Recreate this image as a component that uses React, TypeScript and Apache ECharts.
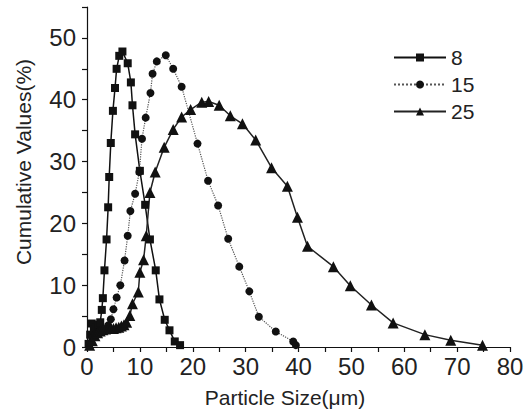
import React, { useEffect, useRef } from "react";
import * as echarts from "echarts";

// Particle size (µm) and cumulative values (%) for each series
const seriesNames = ["8", "15", "25"];

const size8 = [0.3, 0.6, 0.9, 1.3, 1.7, 2.1, 2.5, 2.8, 3.0, 3.3, 3.7, 4.0, 4.2, 4.5, 4.9, 5.3, 5.6, 6.1, 6.7, 7.7, 8.3, 8.6, 9.1, 10.0, 11.0, 11.9, 13.0, 13.7, 14.7, 15.6, 16.6, 17.6];
const cum8 = [0.5, 2.0, 3.8, 2.8, 3.2, 3.6, 4.0, 6.0, 7.9, 12.4, 17.4, 22.6, 27.5, 33.0, 38.2, 41.9, 45.0, 47.1, 47.8, 45.9, 42.8, 39.1, 34.4, 28.5, 23.0, 17.4, 12.4, 7.7, 4.4, 2.7, 0.9, 0.3];

const size15 = [0.5, 1.0, 1.5, 2.0, 2.5, 3.0, 3.5, 4.0, 4.5, 5.0, 5.6, 6.3, 7.1, 7.7, 8.2, 9.1, 9.9, 10.4, 11.1, 12.0, 12.4, 13.2, 14.9, 16.3, 17.9, 20.9, 22.9, 24.8, 26.7, 28.8, 30.7, 32.5, 35.7, 39.0, 39.5];
const cum15 = [0.5, 1.5, 2.0, 2.3, 2.5, 2.6, 2.8, 3.5, 4.5, 6.1, 8.0, 10.0, 14.0, 18.0, 22.0, 24.8, 28.3, 33.7, 37.1, 41.1, 44.2, 46.2, 47.2, 45.0, 42.1, 32.9, 26.9, 22.9, 17.5, 13.0, 9.0, 4.9, 2.5, 0.9, 0.3];

const size25 = [0.5, 1.0, 1.5, 2.0, 2.5, 3.0, 3.5, 4.0, 4.5, 5.0, 5.5, 6.0, 6.5, 7.0, 7.5, 8.1, 8.6, 9.7, 10.0, 10.7, 11.2, 11.9, 12.9, 14.6, 16.3, 17.9, 19.6, 21.7, 23.0, 25.0, 27.1, 29.4, 31.9, 34.9, 37.9, 39.8, 41.7, 46.6, 49.8, 53.8, 57.9, 63.9, 68.8, 74.8];
const cum25 = [0.3, 1.0, 1.8, 2.3, 2.6, 2.8, 2.9, 3.0, 3.0, 3.0, 3.1, 3.2, 3.4, 3.6, 4.0, 5.1, 7.0, 8.9, 12.1, 14.1, 18.0, 25.0, 28.3, 32.3, 35.2, 37.2, 38.4, 39.6, 39.7, 39.1, 37.4, 36.1, 33.5, 29.0, 26.0, 21.0, 16.3, 13.0, 9.9, 6.8, 3.9, 2.0, 1.1, 0.3];

const xTicks = [0, 10, 20, 30, 40, 50, 60, 70, 80];
const yTicks = [0, 10, 20, 30, 40, 50];

const zip = (xs: number[], ys: number[]) => xs.map((x, i) => [x, ys[i]]);

const FONT = "'Liberation Sans', Arial, sans-serif";

export default function App() {
  const ref = useRef<HTMLDivElement>(null);
  useEffect(() => {
    if (!ref.current) return;
    const chart = echarts.init(ref.current, undefined, { renderer: "svg" });
    chart.setOption({
      animation: false,
      backgroundColor: "#ffffff",
      grid: { left: 87, right: 21, top: 7, bottom: 64, containLabel: false },
      xAxis: {
        type: "value",
        min: 0,
        max: 80,
        interval: 5,
        axisLine: { show: true, lineStyle: { color: "#111", width: 1.2 } },
        axisTick: { show: true, length: 5, lineStyle: { color: "#111", width: 1.2 } },
        splitLine: { show: false },
        axisLabel: {
          fontSize: 24,
          fontFamily: FONT,
          color: "#222",
          margin: 7,
          formatter: (v: number) => (xTicks.includes(v) ? String(v) : ""),
        },
      },
      yAxis: {
        type: "value",
        min: 0,
        max: 55,
        interval: 5,
        axisLine: { show: true, lineStyle: { color: "#111", width: 1.2 } },
        axisTick: { show: true, length: 5, lineStyle: { color: "#111", width: 1.2 } },
        splitLine: { show: false },
        axisLabel: {
          fontSize: 24,
          fontFamily: FONT,
          color: "#222",
          margin: 11,
          formatter: (v: number) => (yTicks.includes(v) ? String(v) : ""),
        },
      },
      legend: {
        show: true,
        orient: "vertical",
        left: 388,
        top: 42,
        itemWidth: 52,
        itemHeight: 10,
        itemGap: 6,
        data: seriesNames,
        textStyle: { fontSize: 21, fontFamily: FONT, color: "#222", lineHeight: 21 },
      },
      graphic: [
        {
          type: "text",
          x: 23,
          y: 162,
          rotation: Math.PI / 2,
          style: {
            text: "Cumulative Values(%)",
            fontSize: 21,
            fontFamily: FONT,
            fill: "#222",
            align: "center",
            verticalAlign: "middle",
          },
        },
        {
          type: "text",
          x: 285,
          y: 397,
          style: {
            text: "Particle Size(\u03bcm)",
            fontSize: 21,
            fontFamily: FONT,
            fill: "#222",
            align: "center",
            verticalAlign: "middle",
          },
        },
      ],
      series: [
        {
          name: seriesNames[0],
          type: "line",
          data: zip(size8, cum8),
          symbol: "rect",
          symbolSize: 8,
          itemStyle: { color: "#111" },
          lineStyle: { color: "#111", width: 1.5 },
        },
        {
          name: seriesNames[1],
          type: "line",
          data: zip(size15, cum15),
          symbol: "circle",
          symbolSize: 8,
          itemStyle: { color: "#111" },
          lineStyle: { color: "#555", width: 1.2, type: "dotted" },
        },
        {
          name: seriesNames[2],
          type: "line",
          data: zip(size25, cum25),
          symbol: "triangle",
          symbolSize: 11,
          itemStyle: { color: "#111" },
          lineStyle: { color: "#222", width: 1.5 },
        },
      ],
    });
    return () => chart.dispose();
  }, []);
  return (
    <div
      ref={ref}
      style={{ position: "absolute", left: 0, top: 0, width: 531, height: 411 }}
    />
  );
}
